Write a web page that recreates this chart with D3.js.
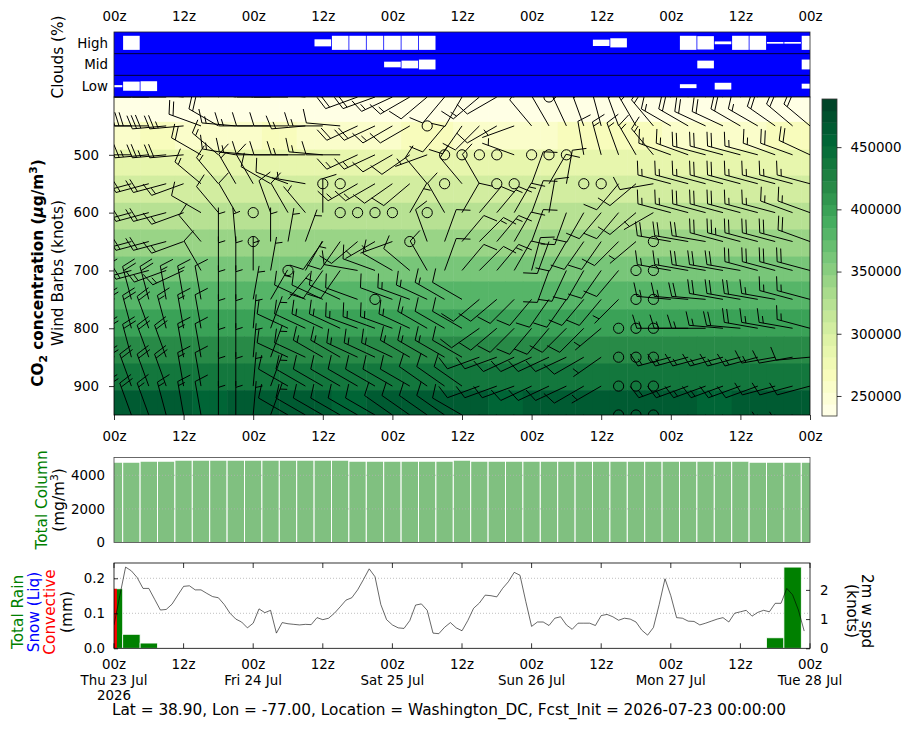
<!DOCTYPE html>
<html>
<head>
<meta charset="utf-8">
<script src="https://cdn.jsdelivr.net/npm/d3@7"></script>
<style>
  body { margin: 0; background: #fff; }
  svg text { font-family: "DejaVu Sans", sans-serif; }
</style>
</head>
<body>
<svg id="chart" width="915" height="730"></svg>
<script>
var FONT = "DejaVu Sans, sans-serif", FS = 13.4, FSL = 15.3;

// ---------------- data ----------------
var startTime = Date.UTC(2026, 6, 23, 0);
var stepHours = d3.range(0, 121, 3);      // 41 forecast times (3-hourly)
var windHours = d3.range(0, 120);         // hourly 2m wind

// cloud cover (%) per 3h step
var cloudHigh = [0,100,0,0,0,0,0,0,0,0,0,0,50,100,100,100,100,100,100,0,0,0,0,0,0,0,0,0,45,65,0,0,0,100,95,20,100,100,12,12,100];
var cloudMid  = [0,0,0,0,0,0,0,0,0,0,0,0,0,0,0,0,40,55,70,0,0,0,0,0,0,0,0,0,0,0,0,0,0,0,55,0,0,0,0,0,70];
var cloudLow  = [15,65,70,0,0,0,0,0,0,0,0,0,0,0,0,0,0,0,0,0,0,0,0,0,0,0,0,0,0,0,0,0,0,28,0,48,0,0,0,0,35];

// CO2 concentration (thousand ug/m3), rows = mesh layers top -> bottom
var meshEdges = [400, 443, 491, 536, 583, 629, 676, 719, 767, 814, 861, 907, 950];
var co2k = [
  [238,238,237,237,236,236,236,237,237,237,236,236,236,236,237,237,237,238,238,238,237,237,236,236,236,237,237,238,238,238,238,237,237,236,236,236,236,237,237,237,237],
  [262,262,263,263,262,261,261,262,262,263,263,262,262,261,261,262,262,263,263,263,262,262,261,261,262,262,263,263,264,264,263,263,262,262,261,261,262,262,263,263,263],
  [285,285,286,286,285,284,284,285,285,286,286,285,285,284,284,285,285,286,286,286,285,285,284,284,285,285,286,286,287,287,286,286,285,285,284,284,285,285,286,286,286],
  [303,303,304,304,303,302,302,303,303,304,304,303,303,302,302,303,303,304,304,304,303,303,302,302,303,303,304,304,305,305,304,304,303,303,302,302,303,303,304,304,304],
  [323,323,324,324,323,322,322,323,323,324,324,323,323,322,322,323,323,324,324,324,323,323,322,322,323,323,324,324,325,325,324,324,323,323,322,322,323,323,324,324,324],
  [341,341,342,342,341,340,340,341,341,342,342,341,341,340,340,341,341,342,342,342,341,341,340,340,341,341,342,342,343,343,342,342,341,341,340,340,341,341,342,342,342],
  [359,359,360,360,359,358,358,359,359,360,360,359,359,358,358,359,359,360,360,360,359,359,358,358,359,359,360,360,361,361,360,360,359,359,358,358,359,359,360,360,360],
  [381,381,382,382,381,380,380,381,381,382,382,381,381,380,380,381,381,382,382,382,381,381,380,380,381,381,382,382,383,383,382,382,381,381,380,380,381,381,382,382,382],
  [401,401,402,402,401,400,400,401,401,402,402,401,401,400,400,401,401,402,402,402,401,401,400,400,401,401,402,402,403,403,402,402,401,401,400,400,401,401,402,402,402],
  [416,416,417,417,416,415,415,416,416,417,417,416,416,415,415,416,416,417,417,417,416,416,415,415,416,416,417,417,418,418,417,417,416,416,415,415,416,416,417,417,417],
  [434,434,435,435,434,433,433,434,434,435,435,434,434,433,433,434,434,435,435,435,434,434,433,433,434,434,435,435,436,436,435,435,434,434,433,433,434,434,435,435,435],
  [463,463,462,462,461,460,460,461,461,462,462,461,461,460,460,461,461,462,462,462,461,461,460,460,461,461,462,462,463,463,462,462,461,461,460,460,461,461,462,462,462]
];

// wind barbs: direction (deg, from) and speed (knots) per level, 3-hourly
var levels = [400, 450, 500, 550, 600, 650, 700, 750, 800, 850, 900, 950];
var windDir = [
  [270,270,270,270,275,295,300,280,280,270,270,275,280,285,250,250,245,240,230,220,210,230,240,280,320,0,330,340,340,330,320,320,300,300,295,300,300,310,310,320,320],
  [270,270,270,265,265,290,300,275,270,270,270,265,270,275,245,245,240,240,0,220,215,225,240,250,320,330,335,340,345,340,330,320,300,300,295,295,300,300,305,310,310],
  [270,270,265,265,265,300,310,280,275,270,270,270,275,270,245,245,240,235,250,0,0,0,0,290,0,0,0,350,345,340,330,320,290,290,285,285,285,285,290,290,295],
  [255,255,255,255,250,310,320,330,330,300,290,280,0,0,240,240,235,230,320,0,320,330,0,0,20,30,10,0,0,220,230,260,285,285,285,285,285,285,285,285,285],
  [255,255,255,255,250,300,320,330,0,340,330,320,0,0,0,0,0,30,0,330,30,40,40,30,20,10,200,210,220,220,230,240,285,285,285,285,285,285,285,290,290],
  [255,255,255,255,250,320,0,355,0,0,10,20,215,215,230,240,250,0,340,20,40,45,40,30,20,200,210,215,215,225,230,0,280,280,280,285,285,285,285,285,290],
  [255,255,255,250,245,330,0,0,0,10,0,30,215,215,280,290,300,310,330,20,40,45,40,30,15,200,205,210,215,220,0,0,280,280,280,280,280,285,285,285,285],
  [345,345,345,350,350,350,0,0,10,30,40,295,295,295,290,0,290,290,295,300,300,230,230,225,220,215,215,220,220,225,0,0,275,275,275,280,280,280,280,285,285],
  [345,345,340,345,350,350,0,0,5,20,295,295,295,295,290,290,290,295,300,300,300,235,230,225,220,220,225,225,230,0,0,0,270,270,270,275,275,280,280,280,285],
  [345,345,340,340,350,350,0,0,5,20,295,295,300,300,295,295,295,300,300,300,300,250,250,245,245,245,245,240,235,0,0,0,255,255,255,255,255,255,260,260,265],
  [345,340,340,340,350,350,0,0,5,20,300,300,300,300,300,300,300,300,305,305,305,250,250,250,245,245,245,240,240,0,0,0,250,250,250,250,250,250,255,255,255],
  [345,340,340,345,350,350,0,0,5,20,300,300,300,300,300,300,305,305,305,305,300,250,250,250,250,245,245,240,240,0,0,0,245,245,245,250,250,250,250,255,255]
];
var windSpd = [
  [40,40,35,35,30,25,20,15,15,10,10,15,15,15,20,20,15,15,10,10,10,15,10,5,10,0,10,15,20,20,20,15,20,20,20,15,15,15,20,20,20],
  [35,30,30,30,25,20,20,15,15,10,10,15,15,10,20,20,15,10,0,10,10,10,10,5,10,10,15,15,15,15,15,15,15,20,20,20,20,15,20,20,20],
  [30,30,25,25,20,20,15,15,15,10,10,15,15,10,15,15,10,10,5,0,0,0,0,5,0,0,0,10,15,15,15,15,15,15,20,20,20,15,15,20,20],
  [25,25,20,20,15,15,15,15,10,10,10,5,0,0,15,15,10,10,10,0,10,10,0,0,10,10,10,0,0,10,10,10,15,15,15,20,20,15,15,15,15],
  [25,20,20,20,15,10,10,10,0,10,10,5,10,0,0,0,0,5,0,10,10,10,15,15,10,10,10,10,10,10,10,5,15,15,20,20,20,15,15,15,15],
  [25,25,20,20,15,10,5,5,0,5,5,5,10,10,10,5,5,0,10,10,10,15,15,10,10,10,10,10,10,10,5,0,20,20,20,20,25,20,20,20,20],
  [20,20,20,15,15,10,5,5,5,5,0,5,10,10,10,10,10,10,10,10,10,10,15,10,10,10,10,10,10,10,0,0,15,15,20,20,20,20,20,20,20],
  [15,20,20,15,15,10,5,5,5,5,5,10,10,10,10,0,10,15,15,15,10,10,10,10,10,10,10,10,10,5,0,0,15,15,20,20,20,20,15,15,15],
  [20,20,20,15,15,10,5,5,5,5,10,10,15,15,15,15,15,15,15,10,10,10,10,10,10,10,10,10,5,0,0,0,15,15,15,15,20,20,15,15,15],
  [20,20,20,20,15,10,5,5,5,5,10,10,15,15,15,15,15,15,15,15,10,10,10,10,10,10,10,10,5,0,0,0,15,15,15,15,15,15,15,10,10],
  [20,20,20,20,15,10,5,5,5,5,10,10,10,10,10,10,10,10,10,10,10,10,10,10,10,10,10,10,5,0,0,0,15,15,15,15,15,10,10,10,10],
  [20,20,15,15,15,10,5,5,5,5,10,10,10,10,10,10,10,10,10,10,10,10,10,10,10,10,10,10,5,0,0,0,10,10,10,10,10,10,10,10,10]
];

// total column CO2 (mg/m3)
var totalColumn = [4780,4780,4840,4840,4900,4900,4900,4900,4900,4900,4900,4900,4900,4900,4840,4840,4840,4840,4840,4840,4900,4840,4840,4840,4840,4840,4840,4840,4840,4840,4840,4840,4840,4840,4840,4840,4840,4780,4780,4780,4780];

// precipitation (mm per 3h)
var totalRain  = [0.17,0.04,0.015,0,0,0,0,0,0,0,0,0,0,0,0,0,0,0,0,0,0,0,0,0,0,0,0,0,0,0,0,0,0,0,0,0,0,0,0.03,0.232,0];
var convective = [0.17,0,0,0,0,0,0,0,0,0,0,0,0,0,0,0,0,0,0,0,0,0,0,0,0,0,0,0,0,0,0,0,0,0,0,0,0,0,0,0,0];
var snowLiq    = [0,0,0,0,0,0,0,0,0,0,0,0,0,0,0,0,0,0,0,0,0,0,0,0,0,0,0,0,0,0,0,0,0,0,0,0,0,0,0,0,0];

// 2m wind speed (knots), hourly
var wind2m = [
  0.80,1.80,2.78,2.65,2.42,2.05,2.05,1.68,1.31,1.33,
  1.51,1.82,2.12,2.14,2.00,2.00,1.88,1.77,1.73,1.50,
  1.20,1.00,0.90,0.70,0.86,1.35,1.22,1.30,0.52,0.88,
  0.84,0.82,0.80,0.82,0.81,1.05,0.98,1.03,1.20,1.42,
  1.65,1.73,2.00,2.35,2.72,2.45,1.50,0.98,0.80,0.70,
  0.68,0.95,1.48,1.52,1.30,0.52,0.50,0.72,0.88,0.70,
  0.60,0.95,1.37,1.55,1.82,1.80,1.76,2.05,2.28,2.60,
  2.50,1.60,0.75,0.90,0.90,0.78,1.03,1.08,0.80,0.65,
  0.86,0.86,0.86,0.78,1.12,1.16,1.08,0.96,1.03,1.00,
  0.90,0.62,0.45,0.71,1.50,2.38,1.80,1.05,1.03,0.93,
  0.92,0.80,0.86,0.93,1.00,1.05,0.90,1.20,1.25,1.30,
  1.10,1.23,1.30,1.25,1.54,1.54,2.05,1.83,1.31,0.59
];

var ylgn = ["#ffffe5","#f7fcb9","#d9f0a3","#addd8e","#78c679","#41ab5d","#238443","#006837","#004529"];

// ---------------- layout ----------------
var svg = d3.select("#chart");
var x = d3.scaleLinear().domain([0, 120]).range([114, 810]);
var dx = x(3) - x(0);
var tick12 = d3.range(0, 121, 12);
var zfmt = function(h) { return h % 24 === 0 ? "00z" : "12z"; };

var cloudTop = 32, cloudBot = 97;
var mainTop = 97, mainBot = 415;
var colTop = 457.5, colBot = 542.5;
var rainTop = 563, rainBot = 648.3;

var defs = svg.append("defs");
function clip(id, y0, y1) {
  defs.append("clipPath").attr("id", id).append("rect")
    .attr("x", 114).attr("y", y0).attr("width", 696).attr("height", y1 - y0);
}
clip("cClouds", cloudTop, cloudBot);
clip("cMain", mainTop, mainBot);
clip("cCol", colTop, colBot);
clip("cRain", rainTop, rainBot);

function styleAxis(g) {
  g.attr("font-family", FONT).attr("font-size", FS);
  g.select(".domain").remove();
  g.selectAll(".tick line").attr("stroke", "#000").attr("stroke-width", 0.8);
  g.selectAll("text").attr("fill", "#000");
}
function vlabel(cx, cy, txt, color, rot) {
  return svg.append("text").attr("transform", "translate(" + cx + "," + cy + ") rotate(" + (rot || -90) + ")")
    .attr("text-anchor", "middle").attr("font-size", FSL).attr("fill", color || "#000").text(txt);
}

// ---------------- clouds ----------------
var yCloud = d3.scaleBand().domain(["High", "Mid", "Low"]).range([cloudTop, cloudBot]);
svg.append("rect").attr("x", 114).attr("y", cloudTop).attr("width", 696)
  .attr("height", cloudBot - cloudTop).attr("fill", "#0000ff");

var cloudG = svg.append("g").attr("clip-path", "url(#cClouds)");
[["High", cloudHigh], ["Mid", cloudMid], ["Low", cloudLow]].forEach(function(row) {
  var cy = yCloud(row[0]) + yCloud.bandwidth() / 2;
  cloudG.selectAll(null).data(row[1].map(function(v, i) { return { h: stepHours[i], v: v }; })
      .filter(function(d) { return d.v > 0; }))
    .enter().append("rect")
    .attr("x", function(d) { return x(d.h) - dx / 2 + 0.4; })
    .attr("width", dx - 0.8)
    .attr("y", function(d) { return cy - d.v / 100 * 0.65 * yCloud.bandwidth() / 2; })
    .attr("height", function(d) { return d.v / 100 * 0.65 * yCloud.bandwidth(); })
    .attr("fill", "#fff");
});
[yCloud("Mid"), yCloud("Low")].forEach(function(yy) {
  svg.append("line").attr("x1", 114).attr("x2", 810).attr("y1", yy).attr("y2", yy)
    .attr("stroke", "#000").attr("stroke-width", 0.8);
});
svg.append("rect").attr("x", 114).attr("y", cloudTop).attr("width", 696)
  .attr("height", cloudBot - cloudTop).attr("fill", "none").attr("stroke", "#222").attr("stroke-width", 0.8);
["High", "Mid", "Low"].forEach(function(n) {
  svg.append("text").attr("x", 108).attr("y", yCloud(n) + yCloud.bandwidth() / 2)
    .attr("dy", "0.35em").attr("text-anchor", "end").attr("font-size", FS).text(n);
});
svg.append("g").attr("transform", "translate(0," + cloudTop + ")")
  .call(d3.axisTop(x).tickValues(tick12).tickFormat(zfmt).tickSize(0).tickPadding(11))
  .call(styleAxis);
vlabel(62.5, 57, "Clouds (%)");

// ---------------- CO2 mesh + wind barbs ----------------
var y = d3.scaleLinear().domain([400, 950]).range([mainTop, mainBot]);
var vmin = 233900, vmax = 488700, nColors = 27;
var cmapLin = d3.scaleLinear().domain(d3.range(9).map(function(i) { return i / 8; }))
  .range(ylgn).interpolate(d3.interpolateRgb);
function cmap(v) {
  var f = (v - vmin) / (vmax - vmin);
  var k = Math.max(0, Math.min(nColors - 1, Math.floor(f * nColors)));
  return cmapLin(k / (nColors - 1));
}

var meshG = svg.append("g").attr("clip-path", "url(#cMain)");
co2k.forEach(function(row, r) {
  meshG.selectAll(null).data(row).enter().append("rect")
    .attr("x", function(d, i) { return x(stepHours[i]) - dx / 2; })
    .attr("width", dx + 0.5)
    .attr("y", y(meshEdges[r]))
    .attr("height", y(meshEdges[r + 1]) - y(meshEdges[r]) + 0.5)
    .attr("fill", function(d) { return cmap(d * 1000); });
});

// matplotlib style barbs
var L = 34, sp = 0.125 * L, bH = 0.4 * L, bW = 0.25 * L, emptyR = 0.15 * L;
function barbPath(cx, cy, dir, spd) {
  var r = Math.round(spd / 5) * 5;
  var th = dir * Math.PI / 180;
  var ux = Math.sin(th), uy = -Math.cos(th);   // shaft towards where wind comes from
  var nx = Math.cos(th), ny = Math.sin(th);    // feathers on the right side
  function pt(o, h) { return [cx + o * ux + h * nx, cy + o * uy + h * ny]; }
  var p = d3.path(), f = d3.path();
  var tip = pt(L, 0);
  p.moveTo(cx, cy); p.lineTo(tip[0], tip[1]);
  var o = L, a, b, c;
  var nflag = Math.floor(r / 50), nb = Math.floor((r % 50) / 10), half = (r % 10) >= 5;
  for (var i = 0; i < nflag; i++) {
    if (o !== L) o += sp / 2;
    a = pt(o, 0); b = pt(o - bW / 2, bH); c = pt(o - bW, 0);
    f.moveTo(a[0], a[1]); f.lineTo(b[0], b[1]); f.lineTo(c[0], c[1]); f.closePath();
    o -= bW + sp;
  }
  for (i = 0; i < nb; i++) {
    a = pt(o, 0); b = pt(o + bW / 2, bH);
    p.moveTo(a[0], a[1]); p.lineTo(b[0], b[1]);
    o -= sp;
  }
  if (half) {
    if (o === L) o -= 1.5 * sp;
    a = pt(o, 0); b = pt(o + bW / 4, bH / 2);
    p.moveTo(a[0], a[1]); p.lineTo(b[0], b[1]);
  }
  return { line: p.toString(), flag: f.toString() };
}

var barbG = svg.append("g").attr("clip-path", "url(#cMain)");
levels.forEach(function(lev, li) {
  stepHours.forEach(function(h, i) {
    var cx = x(h), cy = y(lev), s = windSpd[li][i];
    if (Math.round(s / 5) * 5 < 5) {
      barbG.append("circle").attr("cx", cx).attr("cy", cy).attr("r", emptyR)
        .attr("fill", "none").attr("stroke", "#000").attr("stroke-width", 1);
    } else {
      var bp = barbPath(cx, cy, windDir[li][i], s);
      barbG.append("path").attr("d", bp.line).attr("fill", "none")
        .attr("stroke", "#000").attr("stroke-width", 1);
      if (bp.flag) barbG.append("path").attr("d", bp.flag).attr("fill", "#000");
    }
  });
});

svg.append("rect").attr("x", 114).attr("y", mainTop).attr("width", 696)
  .attr("height", mainBot - mainTop).attr("fill", "none").attr("stroke", "#000").attr("stroke-width", 0.8);
svg.append("g").attr("transform", "translate(114,0)")
  .call(d3.axisLeft(y).tickValues([500, 600, 700, 800, 900]).tickSize(5).tickPadding(10))
  .call(styleAxis);
svg.append("g").attr("transform", "translate(0," + mainBot + ")")
  .call(d3.axisBottom(x).tickValues(tick12).tickFormat(zfmt).tickSize(5).tickPadding(11))
  .call(styleAxis);

var lab1 = svg.append("text").attr("transform", "translate(42.5,273) rotate(-90)")
  .attr("text-anchor", "middle").attr("font-size", FSL).attr("font-weight", "bold");
lab1.append("tspan").text("CO");
lab1.append("tspan").attr("font-size", FSL * 0.7).attr("dy", 4).text("2");
lab1.append("tspan").attr("dy", -4).text(" concentration (");
lab1.append("tspan").attr("font-style", "italic").text("μ");
lab1.append("tspan").text("g/m");
lab1.append("tspan").attr("font-size", FSL * 0.7).attr("dy", -6).text("3");
lab1.append("tspan").attr("dy", 6).text(")");
vlabel(62.5, 273, "Wind Barbs (knots)");

// colorbar
var cb = d3.scaleLinear().domain([vmin, vmax]).range([416, 99]);
var cbG = svg.append("g");
d3.range(nColors).forEach(function(k) {
  var v0 = vmin + (vmax - vmin) * k / nColors, v1 = vmin + (vmax - vmin) * (k + 1) / nColors;
  cbG.append("rect").attr("x", 822).attr("width", 15)
    .attr("y", cb(v1)).attr("height", cb(v0) - cb(v1) + 0.4)
    .attr("fill", cmapLin(k / (nColors - 1)));
});
cbG.append("rect").attr("x", 822).attr("y", 99).attr("width", 15).attr("height", 317)
  .attr("fill", "none").attr("stroke", "#333").attr("stroke-width", 0.8);
svg.append("g").attr("transform", "translate(837,0)")
  .call(d3.axisRight(cb).tickValues([250000, 300000, 350000, 400000, 450000])
    .tickFormat(d3.format("d")).tickSize(4.5).tickPadding(9))
  .call(styleAxis);

// ---------------- total column ----------------
var yCol = d3.scaleLinear().domain([0, 5060]).range([colBot, colTop]);
svg.append("g").attr("clip-path", "url(#cCol)").selectAll("rect")
  .data(totalColumn).enter().append("rect")
  .attr("x", function(d, i) { return x(stepHours[i]) - dx / 2; })
  .attr("width", dx)
  .attr("y", function(d) { return yCol(d); })
  .attr("height", function(d) { return colBot - yCol(d); })
  .attr("fill", "#80c080").attr("stroke", "#fff").attr("stroke-width", 1);
[2000, 4000].forEach(function(v) {
  svg.append("line").attr("x1", 114).attr("x2", 810).attr("y1", yCol(v)).attr("y2", yCol(v))
    .attr("stroke", "#b0b0b0").attr("stroke-width", 0.8).attr("stroke-dasharray", "1,2");
});
svg.append("rect").attr("x", 114).attr("y", colTop).attr("width", 696).attr("height", colBot - colTop)
  .attr("fill", "none").attr("stroke", "#444").attr("stroke-width", 0.8);
svg.append("g").attr("transform", "translate(114,0)")
  .call(d3.axisLeft(yCol).tickValues([0, 2000, 4000]).tickFormat(d3.format("d")).tickSize(0).tickPadding(9))
  .call(styleAxis);
vlabel(46.5, 500, "Total Column", "green");
var lab2 = svg.append("text").attr("transform", "translate(63.5,500) rotate(-90)")
  .attr("text-anchor", "middle").attr("font-size", FSL);
lab2.append("tspan").text("(mg/m");
lab2.append("tspan").attr("font-size", FSL * 0.7).attr("dy", -6).text("3");
lab2.append("tspan").attr("dy", 6).text(")");

// ---------------- rain + 2m wind ----------------
var yRain = d3.scaleLinear().domain([0, 0.2437]).range([rainBot, rainTop]);
var yWind = d3.scaleLinear().domain([0, 2.92]).range([rainBot, rainTop]);
[0.1, 0.2].forEach(function(v) {
  svg.append("line").attr("x1", 114).attr("x2", 810).attr("y1", yRain(v)).attr("y2", yRain(v))
    .attr("stroke", "#b0b0b0").attr("stroke-width", 0.8).attr("stroke-dasharray", "1,2");
});
var rainG = svg.append("g").attr("clip-path", "url(#cRain)");
rainG.selectAll(".tr").data(totalRain).enter().append("rect")
  .attr("x", function(d, i) { return x(stepHours[i]) - dx / 2; })
  .attr("width", dx)
  .attr("y", function(d) { return yRain(d); })
  .attr("height", function(d) { return rainBot - yRain(d); })
  .attr("fill", "green").attr("stroke", "#fff").attr("stroke-width", 0.8);
rainG.selectAll(".sn").data(snowLiq).enter().append("rect")
  .attr("x", function(d, i) { return x(stepHours[i]) - dx / 2; })
  .attr("width", dx)
  .attr("y", function(d) { return yRain(d); })
  .attr("height", function(d) { return rainBot - yRain(d); })
  .attr("fill", "blue");
rainG.selectAll(".cv").data(convective).enter().append("rect")
  .attr("x", function(d, i) { return x(stepHours[i]) - dx / 6; })
  .attr("width", dx / 3)
  .attr("y", function(d) { return yRain(d); })
  .attr("height", function(d) { return rainBot - yRain(d); })
  .attr("fill", "red");
rainG.append("path").datum(wind2m)
  .attr("d", d3.line().x(function(d, i) { return x(windHours[i]); }).y(function(d) { return yWind(d); }))
  .attr("fill", "none").attr("stroke", "#000").attr("stroke-width", 0.6);
svg.append("rect").attr("x", 114).attr("y", rainTop).attr("width", 696).attr("height", rainBot - rainTop)
  .attr("fill", "none").attr("stroke", "#000").attr("stroke-width", 0.8);
svg.append("g").attr("transform", "translate(114,0)")
  .call(d3.axisLeft(yRain).tickValues([0, 0.1, 0.2]).tickFormat(d3.format(".1f")).tickSizeInner(-4).tickSizeOuter(0).tickPadding(9))
  .call(styleAxis);
svg.append("g").attr("transform", "translate(810,0)")
  .call(d3.axisRight(yWind).tickValues([0, 1, 2]).tickFormat(d3.format("d")).tickSizeInner(-4).tickSizeOuter(0).tickPadding(10))
  .call(styleAxis);
// inward x ticks top and bottom, multi-line date labels
tick12.forEach(function(h) {
  svg.append("line").attr("x1", x(h)).attr("x2", x(h)).attr("y1", rainBot).attr("y2", rainBot - 5)
    .attr("stroke", "#000").attr("stroke-width", 0.8);
  svg.append("line").attr("x1", x(h)).attr("x2", x(h)).attr("y1", rainTop).attr("y2", rainTop + 5)
    .attr("stroke", "#000").attr("stroke-width", 0.8);
  var t = svg.append("text").attr("x", x(h)).attr("y", 669).attr("text-anchor", "middle").attr("font-size", FS);
  t.append("tspan").attr("x", x(h)).text(zfmt(h));
  if (h % 24 === 0) {
    var dt = new Date(startTime + h * 3600e3);
    t.append("tspan").attr("x", x(h)).attr("dy", 15.5).text(d3.utcFormat("%a %d %b")(dt));
    if (h === 0) t.append("tspan").attr("x", x(h)).attr("dy", 15.5).text(d3.utcFormat("%Y")(dt));
  }
});

vlabel(22.5, 612, "Total Rain", "green");
vlabel(38.5, 612, "Snow (Liq)", "blue");
vlabel(54.5, 612, "Convective", "red");
vlabel(71.5, 612, "(mm)");
vlabel(861.5, 611, "2m w spd", "#000", 90);
vlabel(846.5, 611, "(knots)", "#000", 90);

svg.append("text").attr("x", 449).attr("y", 715).attr("text-anchor", "middle").attr("font-size", FSL)
  .text("Lat = 38.90, Lon = -77.00, Location = Washington_DC, Fcst_Init = 2026-07-23 00:00:00");
</script>
</body>
</html>
